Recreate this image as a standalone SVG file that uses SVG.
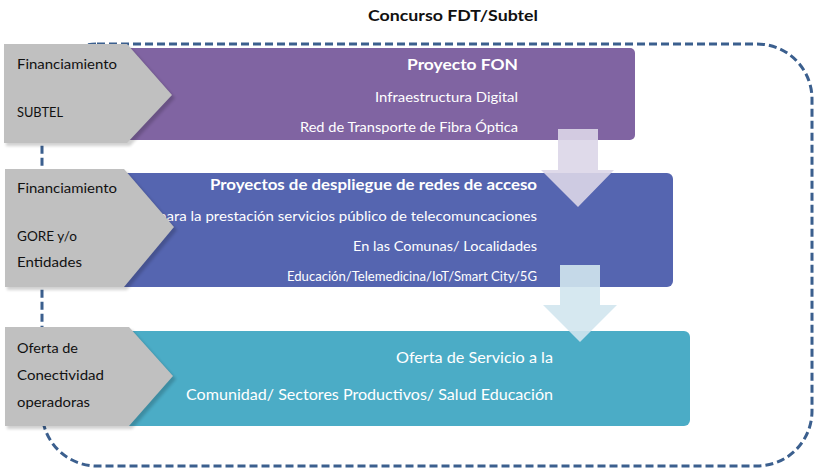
<svg xmlns="http://www.w3.org/2000/svg" width="816" height="473" viewBox="0 0 816 473">
<defs>
<style>
text{font-family:Lato,"Open Sans","Liberation Sans",sans-serif}
.w{fill:#ffffff;font-size:14px}
.wb{fill:#ffffff;font-size:15.5px;font-weight:bold}
.wl{fill:#ffffff;font-size:16px}
.k{fill:#111111;font-size:14px}
.tab{fill:#c0c0c0}
.sh{fill:#000;opacity:0.18}
</style>
<filter id="blur" x="-10%" y="-10%" width="130%" height="130%"><feGaussianBlur stdDeviation="1.5"/></filter>
</defs>
<rect width="816" height="473" fill="#ffffff"/>
<text x="453" y="21" text-anchor="middle" style="font-size:15.5px;font-weight:bold;fill:#111" textLength="170" lengthAdjust="spacingAndGlyphs">Concurso FDT/Subtel</text>
<g id="connectors">
<path d="M97,44 H757 A55,55 0 0 1 812,99 V411 A55,55 0 0 1 757,466 H97 A55,55 0 0 1 42,411 V99 A55,55 0 0 1 97,44 Z" fill="none" stroke="#3b5f8e" stroke-width="3" stroke-dasharray="8,4"/>
</g>
<g id="box-fon">
<rect x="80" y="48" width="555" height="92" rx="5" fill="#8064a2"/>
<text class="wb" x="518" y="70" text-anchor="end" textLength="111" lengthAdjust="spacingAndGlyphs">Proyecto FON</text>
<text class="w" x="518" y="102" text-anchor="end" textLength="143" lengthAdjust="spacingAndGlyphs">Infraestructura Digital</text>
<text class="w" x="518" y="132" text-anchor="end" textLength="218" lengthAdjust="spacingAndGlyphs">Red de Transporte de Fibra Óptica</text>
</g>
<g id="box-despliegue">
<rect x="78" y="173" width="595" height="114" rx="6" fill="#5565b0"/>
<text class="wb" x="537" y="190" text-anchor="end" textLength="327" lengthAdjust="spacingAndGlyphs">Proyectos de despliegue de redes de acceso</text>
<text class="w" x="537" y="221" text-anchor="end" textLength="379" lengthAdjust="spacingAndGlyphs">para la prestación servicios público de telecomuncaciones</text>
<text class="w" x="537" y="251" text-anchor="end" textLength="184" lengthAdjust="spacingAndGlyphs">En las Comunas/ Localidades</text>
<text class="w" x="537" y="281" text-anchor="end" textLength="250" lengthAdjust="spacingAndGlyphs">Educación/Telemedicina/IoT/Smart City/5G</text>
</g>
<g id="box-oferta">
<rect x="90" y="331" width="600" height="95" rx="6" fill="#4bacc6"/>
<text class="wl" x="553" y="363" text-anchor="end" textLength="157" lengthAdjust="spacingAndGlyphs">Oferta de Servicio a la</text>
<text class="wl" x="553" y="400" text-anchor="end" textLength="367" lengthAdjust="spacingAndGlyphs">Comunidad/ Sectores Productivos/ Salud Educación</text>
</g>
<g id="arrow-1">
<path d="M558,129 H598 V170 H614 L578,207 L541,170 H558 Z" fill="#dcd6e8" fill-opacity="0.9"/>
</g>
<g id="arrow-2">
<path d="M560,265 H600 V305 H617 L580,342 L543,305 H560 Z" fill="#d2e6ee" fill-opacity="0.9"/>
</g>
<g id="tab-subtel">
<path class="sh" filter="url(#blur)" d="M6,47 H130 L175,98 L130,146 H6 Z"/>
<path class="tab" d="M4,44 H127 L172,95 L127,143 H4 Z"/>
<text class="k" x="17" y="69" textLength="100" lengthAdjust="spacingAndGlyphs">Financiamiento</text>
<text class="k" x="17" y="117" textLength="46" lengthAdjust="spacingAndGlyphs">SUBTEL</text>
</g>
<g id="tab-gore">
<path class="sh" filter="url(#blur)" d="M7,172 H127 L177,230 L127,290 H7 Z"/>
<path class="tab" d="M5,169 H124 L174,227 L124,287 H5 Z"/>
<text class="k" x="17" y="193" textLength="100" lengthAdjust="spacingAndGlyphs">Financiamiento</text>
<text class="k" x="17" y="241" textLength="60" lengthAdjust="spacingAndGlyphs">GORE y/o</text>
<text class="k" x="17" y="267" textLength="65" lengthAdjust="spacingAndGlyphs">Entidades</text>
</g>
<g id="tab-operadoras">
<path class="sh" filter="url(#blur)" d="M7,330 H132 L176,379 L132,429 H7 Z"/>
<path class="tab" d="M5,327 H129 L173,376 L129,426 H5 Z"/>
<text class="k" x="17" y="353" textLength="61" lengthAdjust="spacingAndGlyphs">Oferta de</text>
<text class="k" x="17" y="380" textLength="87" lengthAdjust="spacingAndGlyphs">Conectividad</text>
<text class="k" x="17" y="407" textLength="73" lengthAdjust="spacingAndGlyphs">operadoras</text>
</g>
</svg>
